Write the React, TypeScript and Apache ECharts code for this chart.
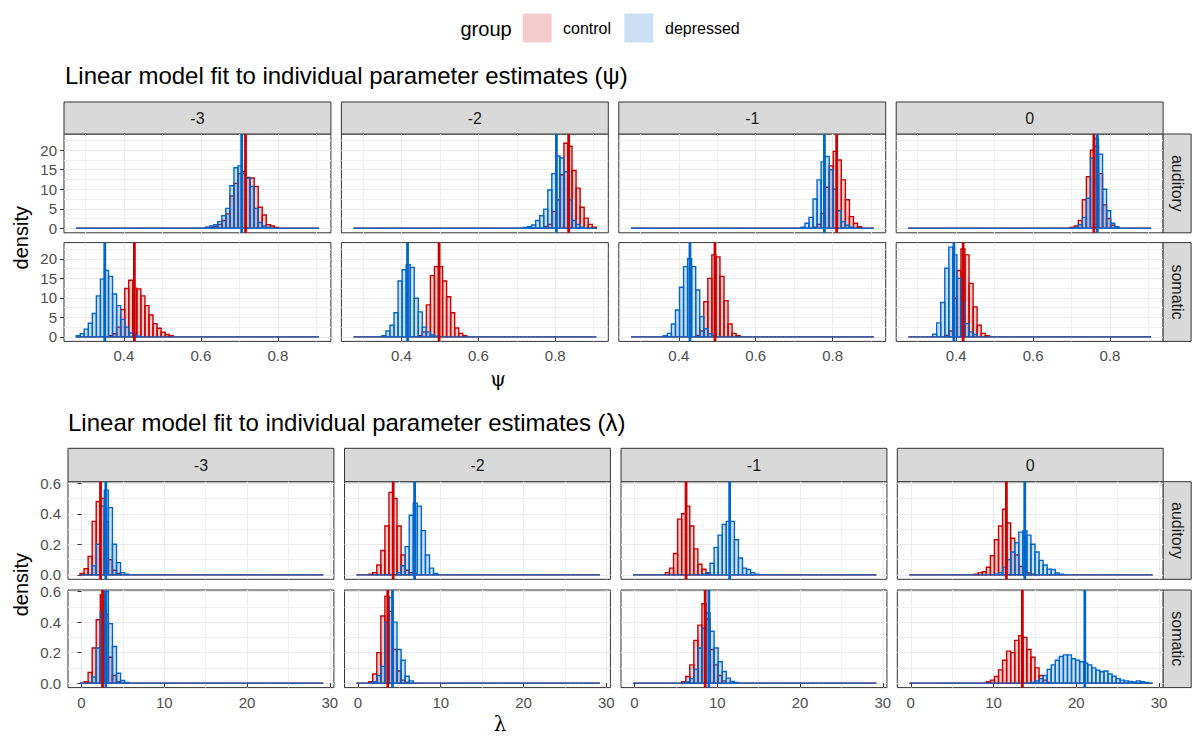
import React, { useEffect, useRef } from "react";
import * as echarts from "echarts";

// ---------- categories ----------
const columnLabels = ["-3", "-2", "-1", "0"];
const rowLabels = ["auditory", "somatic"];
const groupLabels = ["control", "depressed"];

// ---------- tick labels ----------
const psiXTicks = [0.4, 0.6, 0.8];
const psiYTicks = [0, 5, 10, 15, 20];
const lambdaXTicks = [0, 10, 20, 30];
const lambdaYTicks = [0, 0.2, 0.4, 0.6];

// ---------- histogram binning ----------
const binCount = 60;
const psiBinStart = 0.2756;
const psiBinWidth = 0.01052;
const lambdaBinStart = -0.18;
const lambdaBinWidth = 0.49;

// ---------- psi densities (first non-empty bin per column, then bin densities) ----------
const psiAuditoryControlFirst = [32, 47, 45, 40];
const psiAuditoryControl = [
  [0.2, 0.3, 0.5, 1.0, 2.0, 3.7, 8.3, 11.5, 14.0, 14.5, 13.0, 12.9, 10.7, 5.4, 3.4, 0.9, 0.6, 0.2],
  [0.5, 1.0, 4.3, 7.3, 13.7, 21.8, 21.0, 14.8, 10.3, 5.4, 2.6, 1.0, 0.3],
  [0.3, 1.0, 3.8, 10.5, 16.0, 19.7, 17.5, 12.4, 7.3, 3.0, 1.3, 0.4],
  [0.2, 0.6, 2.0, 7.3, 13.2, 20.0, 21.0, 14.0, 6.0, 2.5, 0.8, 0.3],
];
const psiAuditoryDepressedFirst = [32, 42, 42, 41];
const psiAuditoryDepressed = [
  [0.3, 0.6, 0.9, 1.7, 3.2, 5.1, 10.9, 15.5, 16.0, 14.0, 12.9, 10.7, 5.1, 1.5, 0.6, 0.2],
  [0.2, 0.4, 0.85, 2.0, 3.2, 4.9, 9.8, 14.0, 18.5, 18.0, 14.5, 7.3, 2.0, 1.0, 0.3],
  [0.3, 1.3, 2.8, 7.5, 12.4, 17.0, 18.4, 15.0, 10.0, 4.5, 1.7, 0.8, 0.3],
  [0.2, 0.9, 2.8, 7.7, 18.0, 23.0, 19.0, 10.0, 4.5, 1.3, 0.4],
];
const psiSomaticControlFirst = [8, 16, 16, 9];
const psiSomaticControl = [
  [0.3, 0.8, 2.5, 7.0, 12.4, 14.5, 12.5, 12.3, 10.5, 8.0, 5.6, 3.4, 2.2, 1.2, 0.6, 0.3],
  [0.3, 1.3, 8.2, 15.7, 18.0, 18.0, 14.3, 10.3, 6.2, 2.3, 0.9, 0.3],
  [0.4, 1.5, 9.0, 15.0, 21.0, 20.5, 15.5, 9.3, 3.3, 0.9, 0.3],
  [0.4, 1.5, 9.9, 17.0, 22.5, 21.0, 13.7, 7.7, 3.0, 0.9, 0.3],
];
const psiSomaticDepressedFirst = [0, 7, 8, 6];
const psiSomaticDepressed = [
  [0.3, 0.8, 2.0, 3.5, 6.0, 10.5, 14.8, 17.0, 15.5, 11.0, 8.0, 4.5, 2.5, 1.0, 0.5, 0.2],
  [0.3, 1.5, 3.0, 6.2, 14.3, 17.2, 18.5, 17.8, 9.9, 6.4, 2.5, 1.3, 0.5, 0.2],
  [0.3, 0.9, 3.3, 6.9, 12.7, 18.0, 20.0, 18.0, 12.0, 5.2, 2.1, 0.8, 0.3],
  [0.7, 3.6, 8.8, 17.6, 23.0, 21.0, 15.0, 9.0, 3.4, 1.3, 0.6],
];

// ---------- lambda densities ----------
const lambdaAuditoryControlFirst = [0, 3, 8, 16];
const lambdaAuditoryControl = [
  [0.01, 0.04, 0.12, 0.35, 0.48, 0.5, 0.35, 0.1, 0.03, 0.01],
  [0.005, 0.015, 0.065, 0.16, 0.32, 0.54, 0.5, 0.32, 0.13, 0.03, 0.015, 0.005],
  [0.015, 0.044, 0.14, 0.365, 0.4, 0.45, 0.32, 0.17, 0.07, 0.037, 0.01],
  [0.005, 0.015, 0.02, 0.05, 0.125, 0.23, 0.32, 0.43, 0.34, 0.24, 0.13, 0.055, 0.025, 0.012, 0.005],
];
const lambdaAuditoryDepressedFirst = [3, 10, 17, 21];
const lambdaAuditoryDepressed = [
  [0.06, 0.2, 0.45, 0.555, 0.44, 0.2, 0.08, 0.015, 0.005],
  [0.015, 0.06, 0.185, 0.39, 0.47, 0.45, 0.29, 0.13, 0.044, 0.01],
  [0.005, 0.015, 0.076, 0.18, 0.26, 0.33, 0.35, 0.35, 0.23, 0.11, 0.044, 0.035, 0.015, 0.005],
  [0.005, 0.015, 0.05, 0.1, 0.15, 0.21, 0.28, 0.29, 0.26, 0.2, 0.15, 0.095, 0.065, 0.037, 0.035, 0.012, 0.005],
];
const lambdaSomaticControlFirst = [1, 3, 12, 19];
const lambdaSomaticControl = [
  [0.01, 0.07, 0.23, 0.415, 0.58, 0.45, 0.17, 0.05, 0.01],
  [0.01, 0.06, 0.2, 0.44, 0.57, 0.47, 0.22, 0.08, 0.02, 0.005],
  [0.01, 0.044, 0.12, 0.28, 0.38, 0.52, 0.42, 0.22, 0.12, 0.05, 0.015],
  [0.01, 0.02, 0.044, 0.087, 0.15, 0.21, 0.2, 0.28, 0.31, 0.3, 0.22, 0.17, 0.1, 0.05, 0.02, 0.005],
];
const lambdaSomaticDepressedFirst = [3, 4, 13, 30];
const lambdaSomaticDepressed = [
  [0.04, 0.23, 0.47, 0.6, 0.39, 0.24, 0.065, 0.017, 0.005],
  [0.01, 0.05, 0.11, 0.4, 0.56, 0.4, 0.22, 0.15, 0.045, 0.015],
  [0.01, 0.03, 0.09, 0.23, 0.36, 0.46, 0.34, 0.23, 0.14, 0.076, 0.033, 0.012, 0.005],
  [0.005, 0.015, 0.03, 0.05, 0.09, 0.12, 0.15, 0.175, 0.185, 0.185, 0.16, 0.15, 0.14, 0.13, 0.12, 0.1, 0.085, 0.075, 0.08, 0.06, 0.045, 0.03, 0.02, 0.015, 0.012, 0.008, 0.015, 0.01, 0.005],
];

// ---------- group means (vertical lines) ----------
const psiMeanAuditoryControl = [0.716, 0.835, 0.8105, 0.758];
const psiMeanAuditoryDepressed = [0.706, 0.803, 0.7786, 0.767];
const psiMeanSomaticControl = [0.427, 0.498, 0.494, 0.418];
const psiMeanSomaticDepressed = [0.35, 0.416, 0.429, 0.394];
const lambdaMeanAuditoryControl = [2.3, 4.25, 6.23, 11.55];
const lambdaMeanAuditoryDepressed = [2.94, 6.84, 11.5, 13.77];
const lambdaMeanSomaticControl = [2.54, 3.6, 8.54, 13.48];
const lambdaMeanSomaticDepressed = [2.94, 4.17, 8.99, 21.03];

// ---------- styles ----------
const FONT = "'Liberation Sans', Arial, Helvetica, sans-serif";
const SERIF = "'DejaVu Serif', 'Liberation Serif', serif";
const LINE_COLORS = ["#CC0000", "#0066CC"];
const FILL_COLORS = ["rgba(204,0,0,0.2)", "rgba(0,102,204,0.2)"];
const KEY_COLORS = ["#F5CCCC", "#CCE0F5"];
const TICK_FONT = 15;
const STRIP_FONT = 16;

function padBins(first: number, heights: number[]): number[] {
  const out = new Array(binCount).fill(0);
  heights.forEach((h, i) => {
    out[first + i] = h;
  });
  return out;
}

const blocks = [
  {
    binStart: psiBinStart,
    binWidth: psiBinWidth,
    xMin: 0.244,
    xMax: 0.938,
    yMin: -1.15,
    yMax: 24.15,
    xSplit: 4,
    ySplit: 5,
    xTicks: psiXTicks,
    yTicks: psiYTicks,
    yFmt: (v: number) => String(v),
    lefts: [64, 341.4, 618.8, 896.2],
    width: 266.9,
    tops: [134, 242.6],
    height: 98.8,
    stripTop: 102,
    hist: [
      [
        [psiAuditoryControlFirst, psiAuditoryControl],
        [psiAuditoryDepressedFirst, psiAuditoryDepressed],
      ],
      [
        [psiSomaticControlFirst, psiSomaticControl],
        [psiSomaticDepressedFirst, psiSomaticDepressed],
      ],
    ],
    means: [
      [psiMeanAuditoryControl, psiMeanAuditoryDepressed],
      [psiMeanSomaticControl, psiMeanSomaticDepressed],
    ],
  },
  {
    binStart: lambdaBinStart,
    binWidth: lambdaBinWidth,
    xMin: -1.63,
    xMax: 30.5,
    yMin: -0.029,
    yMax: 0.61,
    xSplit: 4,
    ySplit: 3,
    xTicks: lambdaXTicks,
    yTicks: lambdaYTicks,
    yFmt: (v: number) => v.toFixed(1),
    lefts: [68, 344.5, 621, 897.3],
    width: 265.9,
    tops: [481.7, 590],
    height: 97.6,
    stripTop: 448.3,
    hist: [
      [
        [lambdaAuditoryControlFirst, lambdaAuditoryControl],
        [lambdaAuditoryDepressedFirst, lambdaAuditoryDepressed],
      ],
      [
        [lambdaSomaticControlFirst, lambdaSomaticControl],
        [lambdaSomaticDepressedFirst, lambdaSomaticDepressed],
      ],
    ],
    means: [
      [lambdaMeanAuditoryControl, lambdaMeanAuditoryDepressed],
      [lambdaMeanSomaticControl, lambdaMeanSomaticDepressed],
    ],
  },
];

function histRender(fill: string, stroke: string) {
  return (params: any, api: any) => {
    const a = api.coord([api.value(0), 0]);
    const b = api.coord([api.value(1), api.value(2)]);
    return {
      type: "polygon",
      shape: {
        points: [
          [a[0], a[1]],
          [a[0], b[1]],
          [b[0], b[1]],
          [b[0], a[1]],
        ],
      },
      style: { fill, stroke, lineWidth: 1.4 },
    };
  };
}

function vlineRender(color: string) {
  return (params: any, api: any) => {
    const x = api.coord([api.value(0), 0])[0];
    const cs = params.coordSys;
    return {
      type: "line",
      shape: { x1: x, y1: cs.y, x2: x, y2: cs.y + cs.height },
      style: { stroke: color, lineWidth: 2.8 },
    };
  };
}

function buildOption() {
  const grids: any[] = [];
  const xAxes: any[] = [];
  const yAxes: any[] = [];
  const series: any[] = [];
  const graphics: any[] = [];

  blocks.forEach((bl) => {
    rowLabels.forEach((rowName, r) => {
      columnLabels.forEach((colName, c) => {
        const k = grids.length;
        grids.push({
          left: bl.lefts[c],
          top: bl.tops[r],
          width: bl.width,
          height: bl.height,
          show: true,
          backgroundColor: "#FFFFFF",
          borderColor: "#333333",
          borderWidth: 1,
          containLabel: false,
        });
        const bottom = r === rowLabels.length - 1;
        const leftCol = c === 0;
        xAxes.push({
          type: "value",
          gridIndex: k,
          min: bl.xMin,
          max: bl.xMax,
          splitNumber: bl.xSplit,
          axisLine: { show: false },
          axisTick: {
            show: bottom,
            length: 4,
            customValues: bl.xTicks,
            lineStyle: { color: "#333333", width: 1 },
          },
          axisLabel: {
            show: bottom,
            customValues: bl.xTicks,
            margin: 7,
            color: "#4D4D4D",
            fontSize: TICK_FONT,
            fontFamily: FONT,
          },
          splitLine: { show: true, lineStyle: { color: "#EBEBEB", width: 1.1 } },
          minorTick: { show: false, splitNumber: 2 },
          minorSplitLine: { show: true, lineStyle: { color: "#F0F0F0", width: 1 } },
        });
        yAxes.push({
          type: "value",
          gridIndex: k,
          min: bl.yMin,
          max: bl.yMax,
          splitNumber: bl.ySplit,
          axisLine: { show: false },
          axisTick: {
            show: leftCol,
            length: 4,
            customValues: bl.yTicks,
            lineStyle: { color: "#333333", width: 1 },
          },
          axisLabel: {
            show: leftCol,
            customValues: bl.yTicks,
            margin: 7,
            color: "#4D4D4D",
            fontSize: TICK_FONT,
            fontFamily: FONT,
            formatter: bl.yFmt,
          },
          splitLine: { show: true, lineStyle: { color: "#EBEBEB", width: 1.1 } },
          minorTick: { show: false, splitNumber: 2 },
          minorSplitLine: { show: true, lineStyle: { color: "#F0F0F0", width: 1 } },
        });

        // histograms, control first then depressed
        groupLabels.forEach((g, gi) => {
          const [firsts, heights] = bl.hist[r][gi] as [number[], number[][]];
          const bins = padBins(firsts[c], heights[c]);
          series.push({
            type: "custom",
            name: g,
            xAxisIndex: k,
            yAxisIndex: k,
            silent: true,
            clip: true,
            z: 2,
            itemStyle: { color: KEY_COLORS[gi] },
            encode: { x: [0, 1], y: 2 },
            data: bins.map((h, i) => [
              bl.binStart + i * bl.binWidth,
              bl.binStart + (i + 1) * bl.binWidth,
              h,
            ]),
            renderItem: histRender(FILL_COLORS[gi], LINE_COLORS[gi]),
          });
        });
        groupLabels.forEach((g, gi) => {
          series.push({
            type: "custom",
            name: g + " mean",
            xAxisIndex: k,
            yAxisIndex: k,
            silent: true,
            z: 3,
            encode: { x: 0, y: 1 },
            data: [[bl.means[r][gi][c], 0]],
            renderItem: vlineRender(LINE_COLORS[gi]),
          });
        });
      });
    });

    // column strips
    const stripH = bl.tops[0] - bl.stripTop;
    columnLabels.forEach((colName, c) => {
      graphics.push({
        type: "rect",
        shape: { x: bl.lefts[c], y: bl.stripTop, width: bl.width, height: stripH },
        style: { fill: "#D9D9D9", stroke: "#333333", lineWidth: 1 },
      });
      graphics.push({
        type: "text",
        x: bl.lefts[c] + bl.width / 2,
        y: bl.stripTop + stripH / 2,
        style: {
          text: colName,
          fill: "#1A1A1A",
          fontSize: STRIP_FONT,
          fontFamily: FONT,
          align: "center",
          verticalAlign: "middle",
        },
      });
    });
    // row strips
    const rightX = bl.lefts[3] + bl.width;
    rowLabels.forEach((rowName, r) => {
      graphics.push({
        type: "rect",
        shape: { x: rightX, y: bl.tops[r], width: 28, height: bl.height },
        style: { fill: "#D9D9D9", stroke: "#333333", lineWidth: 1 },
      });
      graphics.push({
        type: "text",
        x: rightX + 14,
        y: bl.tops[r] + bl.height / 2,
        rotation: -Math.PI / 2,
        style: {
          text: rowName,
          fill: "#1A1A1A",
          fontSize: STRIP_FONT,
          fontFamily: FONT,
          align: "center",
          verticalAlign: "middle",
        },
      });
    });
    // y axis title
    graphics.push({
      type: "text",
      x: 21,
      y: (bl.tops[0] + bl.tops[1] + bl.height) / 2,
      rotation: Math.PI / 2,
      style: {
        text: "density",
        fill: "#000000",
        fontSize: 20,
        fontFamily: FONT,
        align: "center",
        verticalAlign: "middle",
      },
    });
  });

  // titles
  graphics.push({
    type: "text",
    x: 65,
    y: 75,
    style: {
      text: "Linear model fit to individual parameter estimates (ψ)",
      fill: "#000000",
      fontSize: 24,
      fontFamily: FONT,
      align: "left",
      verticalAlign: "middle",
    },
  });
  graphics.push({
    type: "text",
    x: 68,
    y: 422,
    style: {
      text: "Linear model fit to individual parameter estimates (λ)",
      fill: "#000000",
      fontSize: 24,
      fontFamily: FONT,
      align: "left",
      verticalAlign: "middle",
    },
  });
  // x axis titles
  graphics.push({
    type: "text",
    x: 498,
    y: 379,
    style: { text: "ψ", fill: "#000000", fontSize: 20, fontFamily: SERIF, align: "center", verticalAlign: "middle" },
  });
  graphics.push({
    type: "text",
    x: 500,
    y: 724,
    style: { text: "λ", fill: "#000000", fontSize: 20, fontFamily: SERIF, align: "center", verticalAlign: "middle" },
  });

  // legend
  graphics.push({
    type: "text",
    x: 460.5,
    y: 29,
    style: { text: "group", fill: "#000000", fontSize: 20, fontFamily: FONT, align: "left", verticalAlign: "middle" },
  });
  const keyX = [522.7, 624.3];
  const keyTextX = [563, 665];
  groupLabels.forEach((g, gi) => {
    graphics.push({
      type: "rect",
      shape: { x: keyX[gi], y: 13.5, width: 29, height: 29 },
      style: { fill: KEY_COLORS[gi] },
    });
    graphics.push({
      type: "text",
      x: keyTextX[gi],
      y: 28.5,
      style: { text: g, fill: "#000000", fontSize: 16, fontFamily: FONT, align: "left", verticalAlign: "middle" },
    });
  });

  return {
    animation: false,
    backgroundColor: "#FFFFFF",
    textStyle: { fontFamily: FONT },
    grid: grids,
    xAxis: xAxes,
    yAxis: yAxes,
    series,
    graphic: { elements: graphics },
  };
}

export default function App() {
  const ref = useRef<HTMLDivElement>(null);
  useEffect(() => {
    if (!ref.current) return;
    const chart = echarts.init(ref.current, undefined, { renderer: "svg" });
    chart.setOption(buildOption() as any);
    return () => {
      chart.dispose();
    };
  }, []);
  return (
    <div
      ref={ref}
      style={{ position: "fixed", left: 0, top: 0, width: 1192, height: 736, background: "#FFFFFF" }}
    />
  );
}
